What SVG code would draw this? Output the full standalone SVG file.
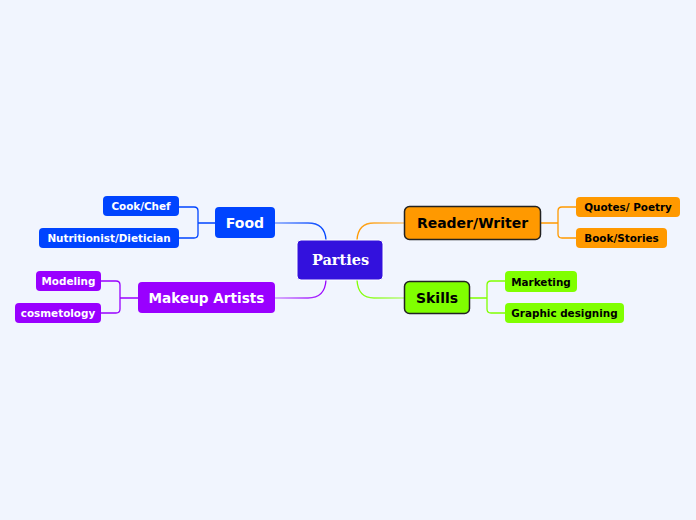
<svg xmlns="http://www.w3.org/2000/svg" width="696" height="520" viewBox="0 0 696 520">
<style>
.t{font-family:"DejaVu Sans","Verdana",sans-serif;font-weight:bold;text-anchor:middle}
.m{font-size:14px}
.s{font-size:10.4px}
.w{fill:#fff}
.k{fill:#000}
.c{fill:none;stroke-width:1.3}
</style>
<defs>
<linearGradient id="gF" gradientUnits="userSpaceOnUse" x1="275" y1="0" x2="326" y2="0"><stop offset="0" stop-color="#0044ff" stop-opacity="0.5"/><stop offset="1" stop-color="#0044ff"/></linearGradient>
<linearGradient id="gR" gradientUnits="userSpaceOnUse" x1="357" y1="0" x2="404" y2="0"><stop offset="0" stop-color="#ff9900"/><stop offset="1" stop-color="#ff9900" stop-opacity="0.5"/></linearGradient>
<linearGradient id="gS" gradientUnits="userSpaceOnUse" x1="357" y1="0" x2="404" y2="0"><stop offset="0" stop-color="#80ff00"/><stop offset="1" stop-color="#80ff00" stop-opacity="0.5"/></linearGradient>
<linearGradient id="gM" gradientUnits="userSpaceOnUse" x1="275" y1="0" x2="326" y2="0"><stop offset="0" stop-color="#9900ff" stop-opacity="0.4"/><stop offset="1" stop-color="#9900ff"/></linearGradient>
</defs>
<rect width="696" height="520" fill="#f1f5fe"/>
<g id="connectors">
<path class="c" stroke="url(#gF)" d="M275 223 H308 Q325 223 326 240"/>
<path class="c" stroke="url(#gR)" d="M357 240 Q358 223 374 223 H404"/>
<path class="c" stroke="url(#gS)" d="M357 280 Q358 298 374 298 H404"/>
<path class="c" stroke="url(#gM)" d="M275 298 H308 Q325 298 326 280"/>
<path class="c" stroke="#ff9900" d="M541 223 H558 M576 207 H562 Q558 207 558 211 V234 Q558 238 562 238 H576"/>
<path class="c" stroke="#80ff00" d="M470 298 H487 M505 281 H491 Q487 281 487 285 V309 Q487 313 491 313 H505"/>
<path class="c" stroke="#0044ff" d="M215 223 H198 M179 207 H194 Q198 207 198 211 V234 Q198 238 194 238 H179"/>
<path class="c" stroke="#9900ff" d="M138 298 H120 M101 281 H116 Q120 281 120 285 V309 Q120 313 116 313 H101"/>
</g>
<g id="parties">
<rect x="297" y="240" width="86" height="40" rx="4" fill="#3311dd" stroke="#fff" stroke-width="1"/>
<text x="340.5" y="265" style="font-family:'DejaVu Serif',serif;font-weight:bold;font-size:14.5px;text-anchor:middle" fill="#fff">Parties</text>
</g>
<g id="reader">
<rect x="404.5" y="206.5" width="136" height="33" rx="5" fill="#ff9900" stroke="#222" stroke-width="1.5"/>
<text class="t m k" x="472.5" y="228">Reader/Writer</text>
</g>
<g id="quotes">
<rect x="576" y="197" width="104" height="20" rx="4" fill="#ff9900"/>
<text class="t s k" x="628" y="211">Quotes/ Poetry</text>
</g>
<g id="book">
<rect x="576" y="228" width="91" height="20" rx="4" fill="#ff9900"/>
<text class="t s k" x="621.5" y="242">Book/Stories</text>
</g>
<g id="skills">
<rect x="404.5" y="281.5" width="65" height="32" rx="5" fill="#80ff00" stroke="#222" stroke-width="1.5"/>
<text class="t m k" x="437" y="303">Skills</text>
</g>
<g id="marketing">
<rect x="505" y="271" width="72" height="21" rx="4" fill="#80ff00"/>
<text class="t s k" x="541" y="285.5">Marketing</text>
</g>
<g id="graphic">
<rect x="505" y="303" width="119" height="20" rx="4" fill="#80ff00"/>
<text class="t s k" x="564.5" y="317">Graphic designing</text>
</g>
<g id="food">
<rect x="215" y="207" width="60" height="31" rx="4" fill="#0044ff"/>
<text class="t m w" x="245" y="228">Food</text>
</g>
<g id="cook">
<rect x="103" y="196" width="76" height="20" rx="4" fill="#0044ff"/>
<text class="t s w" x="141" y="210">Cook/Chef</text>
</g>
<g id="nutritionist">
<rect x="39" y="228" width="140" height="20" rx="4" fill="#0044ff"/>
<text class="t s w" x="109" y="242">Nutritionist/Dietician</text>
</g>
<g id="makeup">
<rect x="138" y="282" width="137" height="31" rx="4" fill="#9900ff"/>
<text class="t w" style="font-size:13.6px" x="206.5" y="303">Makeup Artists</text>
</g>
<g id="modeling">
<rect x="36" y="271" width="65" height="20" rx="4" fill="#9900ff"/>
<text class="t s w" x="68.5" y="285">Modeling</text>
</g>
<g id="cosmetology">
<rect x="15" y="303" width="86" height="20" rx="4" fill="#9900ff"/>
<text class="t s w" x="58" y="317">cosmetology</text>
</g>
</svg>
